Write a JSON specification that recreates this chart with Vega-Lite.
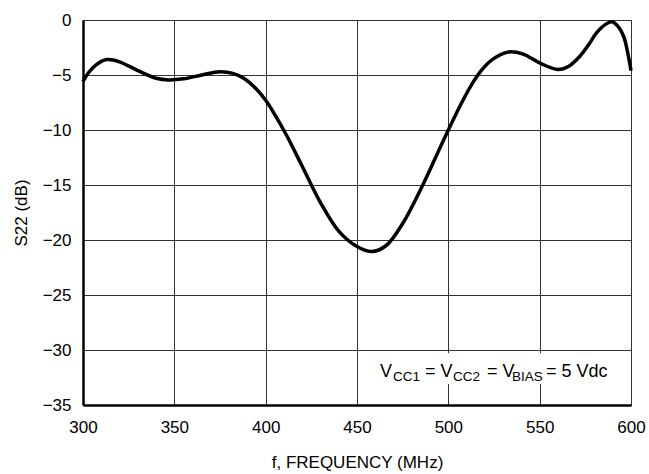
{
  "$schema": "https://vega.github.io/schema/vega-lite/v6.json",
  "autosize": "none",
  "width": 548,
  "height": 385,
  "padding": {"left": 83, "top": 20, "right": 18, "bottom": 69},
  "background": "white",
  "config": {
    "font": "Liberation Sans",
    "view": {"stroke": "#444", "strokeWidth": 1},
    "axis": {
      "grid": true,
      "gridColor": "#333",
      "gridWidth": 1,
      "gridOpacity": 1,
      "ticks": false,
      "labelFlush": false,
      "domainColor": "black",
      "domainWidth": 2.5,
      "labelFont": "Liberation Sans",
      "labelFontSize": 17,
      "labelColor": "black",
      "titleFont": "Liberation Sans",
      "titleFontSize": 17,
      "titleFontWeight": "normal",
      "titleColor": "black"
    }
  },
  "datasets": {
    "s22": [
      {"freq": 300, "s22": -5.6},
      {"freq": 303, "s22": -4.8},
      {"freq": 307, "s22": -4.1},
      {"freq": 313, "s22": -3.6},
      {"freq": 320, "s22": -3.8},
      {"freq": 330, "s22": -4.6},
      {"freq": 340, "s22": -5.3},
      {"freq": 347, "s22": -5.45},
      {"freq": 355, "s22": -5.35},
      {"freq": 365, "s22": -5.0},
      {"freq": 375, "s22": -4.7},
      {"freq": 382, "s22": -4.85},
      {"freq": 388, "s22": -5.3},
      {"freq": 395, "s22": -6.3},
      {"freq": 400, "s22": -7.3},
      {"freq": 405, "s22": -8.6},
      {"freq": 411.5, "s22": -10.5},
      {"freq": 420, "s22": -13.3},
      {"freq": 430, "s22": -16.6},
      {"freq": 440, "s22": -19.2},
      {"freq": 450, "s22": -20.6},
      {"freq": 458, "s22": -21.05},
      {"freq": 466, "s22": -20.5},
      {"freq": 475, "s22": -18.5},
      {"freq": 486, "s22": -15},
      {"freq": 493, "s22": -12.5},
      {"freq": 500, "s22": -10},
      {"freq": 508, "s22": -7.3},
      {"freq": 513, "s22": -5.8},
      {"freq": 518, "s22": -4.6},
      {"freq": 524, "s22": -3.6},
      {"freq": 533, "s22": -2.9},
      {"freq": 541, "s22": -3.1},
      {"freq": 550, "s22": -3.9},
      {"freq": 560, "s22": -4.5},
      {"freq": 566, "s22": -4.2},
      {"freq": 572, "s22": -3.3},
      {"freq": 577, "s22": -2.2},
      {"freq": 581, "s22": -1.2},
      {"freq": 586, "s22": -0.4},
      {"freq": 589.5, "s22": -0.15},
      {"freq": 593, "s22": -0.6},
      {"freq": 596, "s22": -1.5},
      {"freq": 598, "s22": -2.8},
      {"freq": 600, "s22": -4.6}
    ],
    "note": [
      {"freq": 462.6, "level": -32.45, "txt": "V", "sub": false},
      {"freq": 469.7, "level": -32.8, "txt": "CC1", "sub": true},
      {"freq": 487.2, "level": -32.45, "txt": "= V", "sub": false},
      {"freq": 502.6, "level": -32.8, "txt": "CC2", "sub": true},
      {"freq": 521.2, "level": -32.45, "txt": "= V", "sub": false},
      {"freq": 534.9, "level": -32.8, "txt": "BIAS", "sub": true},
      {"freq": 553.4, "level": -32.45, "txt": "= 5 Vdc", "sub": false}
    ],
    "box": [
      {"f0": 461, "f1": 588, "l0": -30.3, "l1": -33.1}
    ]
  },
  "layer": [
    {
      "data": {"name": "box"},
      "mark": {"type": "rect", "fill": "white", "stroke": null},
      "encoding": {
        "x": {"field": "f0", "type": "quantitative", "scale": {"domain": [300, 600]},
          "axis": {"title": "f, FREQUENCY (MHz)", "values": [300, 350, 400, 450, 500, 550, 600], "labelPadding": 14, "titlePadding": 19}},
        "x2": {"field": "f1"},
        "y": {"field": "l0", "type": "quantitative", "scale": {"domain": [-35, 0]},
          "axis": {"title": "S22 (dB)", "values": [0, -5, -10, -15, -20, -25, -30, -35], "labelPadding": 12, "titlePadding": 12}},
        "y2": {"field": "l1"}
      }
    },
    {
      "data": {"name": "s22"},
      "mark": {"type": "line", "color": "black", "strokeWidth": 3.5, "interpolate": "catmull-rom"},
      "encoding": {
        "x": {"field": "freq", "type": "quantitative"},
        "y": {"field": "s22", "type": "quantitative"}
      }
    },
    {
      "data": {"name": "note"},
      "mark": {"type": "text", "align": "left", "baseline": "alphabetic", "color": "black", "font": "Liberation Sans"},
      "encoding": {
        "x": {"field": "freq", "type": "quantitative"},
        "y": {"field": "level", "type": "quantitative"},
        "text": {"field": "txt"},
        "size": {"condition": {"test": "datum.sub", "value": 13.5}, "value": 18}
      }
    }
  ]
}
